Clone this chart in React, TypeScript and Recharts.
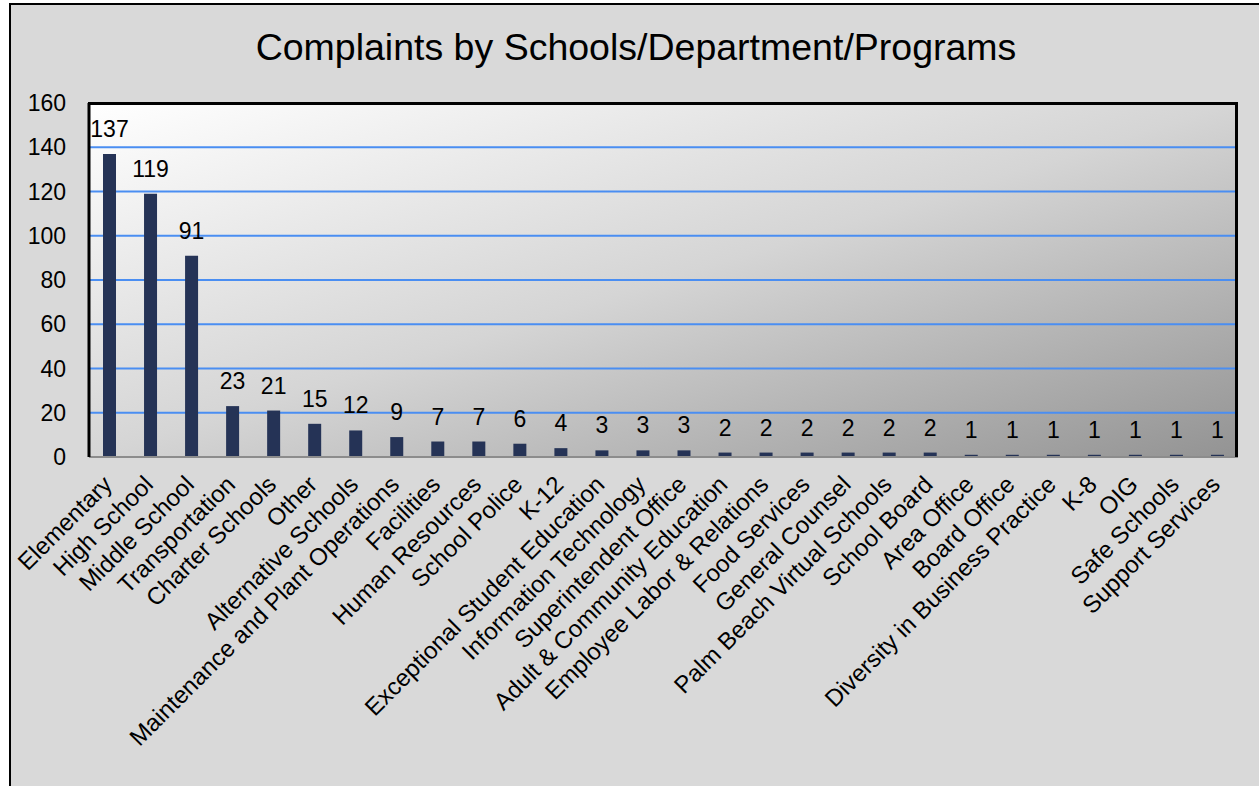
import React from "react";
import { BarChart, Bar, XAxis, YAxis, CartesianGrid, LabelList } from "recharts";

const categories = [
  "Elementary", "High School", "Middle School", "Transportation", "Charter Schools",
  "Other", "Alternative Schools", "Maintenance and Plant Operations", "Facilities",
  "Human Resources", "School Police", "K-12", "Exceptional Student Education",
  "Information Technology", "Superintendent Office", "Adult & Community Education",
  "Employee Labor & Relations", "Food Services", "General Counsel",
  "Palm Beach Virtual Schools", "School Board", "Area Office", "Board Office",
  "Diversity in Business Practice", "K-8", "OIG", "Safe Schools", "Support Services",
];
const complaints = [137, 119, 91, 23, 21, 15, 12, 9, 7, 7, 6, 4, 3, 3, 3, 2, 2, 2, 2, 2, 2, 1, 1, 1, 1, 1, 1, 1];
const yTicks = [0, 20, 40, 60, 80, 100, 120, 140, 160];
const title = "Complaints by Schools/Department/Programs";

const data = categories.map((name, i) => ({ name, value: complaints[i] }));

const FONT = "'Liberation Sans', Arial, sans-serif";

const XTick = (props: any) => {
  const { x, y, payload } = props;
  const ax = x + 4;
  const ay = y + 29;
  return (
    <text
      x={ax}
      y={ay}
      transform={`rotate(-45 ${ax} ${ay})`}
      textAnchor="end"
      fontSize={24}
      fontFamily={FONT}
      fill="#000"
    >
      {payload.value}
    </text>
  );
};

export default function App() {
  return (
    <div style={{ position: "absolute", left: 0, top: 0, width: 1259, height: 786, background: "#fff", overflow: "hidden" }}>
      <div
        style={{
          position: "absolute",
          left: 9,
          top: 3,
          width: 1260,
          height: 781,
          background: "#d9d9d9",
          borderTop: "2px solid #000",
          borderLeft: "2px solid #000",
          borderBottom: "1px solid #aaa",
        }}
      />
      <div
        style={{
          position: "absolute",
          left: 0,
          width: 1272,
          top: 28,
          textAlign: "center",
          fontFamily: FONT,
          fontSize: 37.5,
          lineHeight: "38px",
          color: "#000",
        }}
      >
        {title}
      </div>
      <div style={{ position: "absolute", left: 0, top: 0 }}>
        <BarChart
          width={1259}
          height={786}
          data={data}
          margin={{ top: 103, right: 21, left: 29, bottom: 0 }}
          barCategoryGap={0}
        >
          <defs>
            <linearGradient id="plotBg" x1="0" y1="0" x2="1" y2="1">
              <stop offset="0%" stopColor="#ffffff" />
              <stop offset="50%" stopColor="#d5d5d5" />
              <stop offset="100%" stopColor="#939393" />
            </linearGradient>
          </defs>
          <CartesianGrid
            vertical={false}
            fill="url(#plotBg)"
            fillOpacity={1}
            stroke="#4a8ef2"
            strokeWidth={2}
          />
          <XAxis
            dataKey="name"
            interval={0}
            height={329}
            tickSize={0}
            tickMargin={0}
            tickLine={false}
            axisLine={{ stroke: "#8c8c8c", strokeWidth: 2 }}
            tick={<XTick />}
          />
          <YAxis
            domain={[0, 160]}
            ticks={yTicks}
            width={60}
            tickSize={0}
            tickMargin={23}
            tickLine={false}
            axisLine={{ stroke: "#000", strokeWidth: 3 }}
            tick={{ fontSize: 23, fontFamily: FONT, fill: "#000" }}
          />
          <Bar dataKey="value" fill="#253356" barSize={13} isAnimationActive={false}>
            <LabelList
              dataKey="value"
              position="top"
              offset={17}
              fontSize={23}
              fontFamily={FONT}
              fill="#000"
            />
          </Bar>
        </BarChart>
      </div>
      <div
        style={{
          position: "absolute",
          left: 88,
          top: 102,
          width: 1150,
          height: 355,
          borderTop: "3px solid #000",
          borderRight: "3px solid #000",
          boxSizing: "border-box",
          pointerEvents: "none",
        }}
      />
    </div>
  );
}
